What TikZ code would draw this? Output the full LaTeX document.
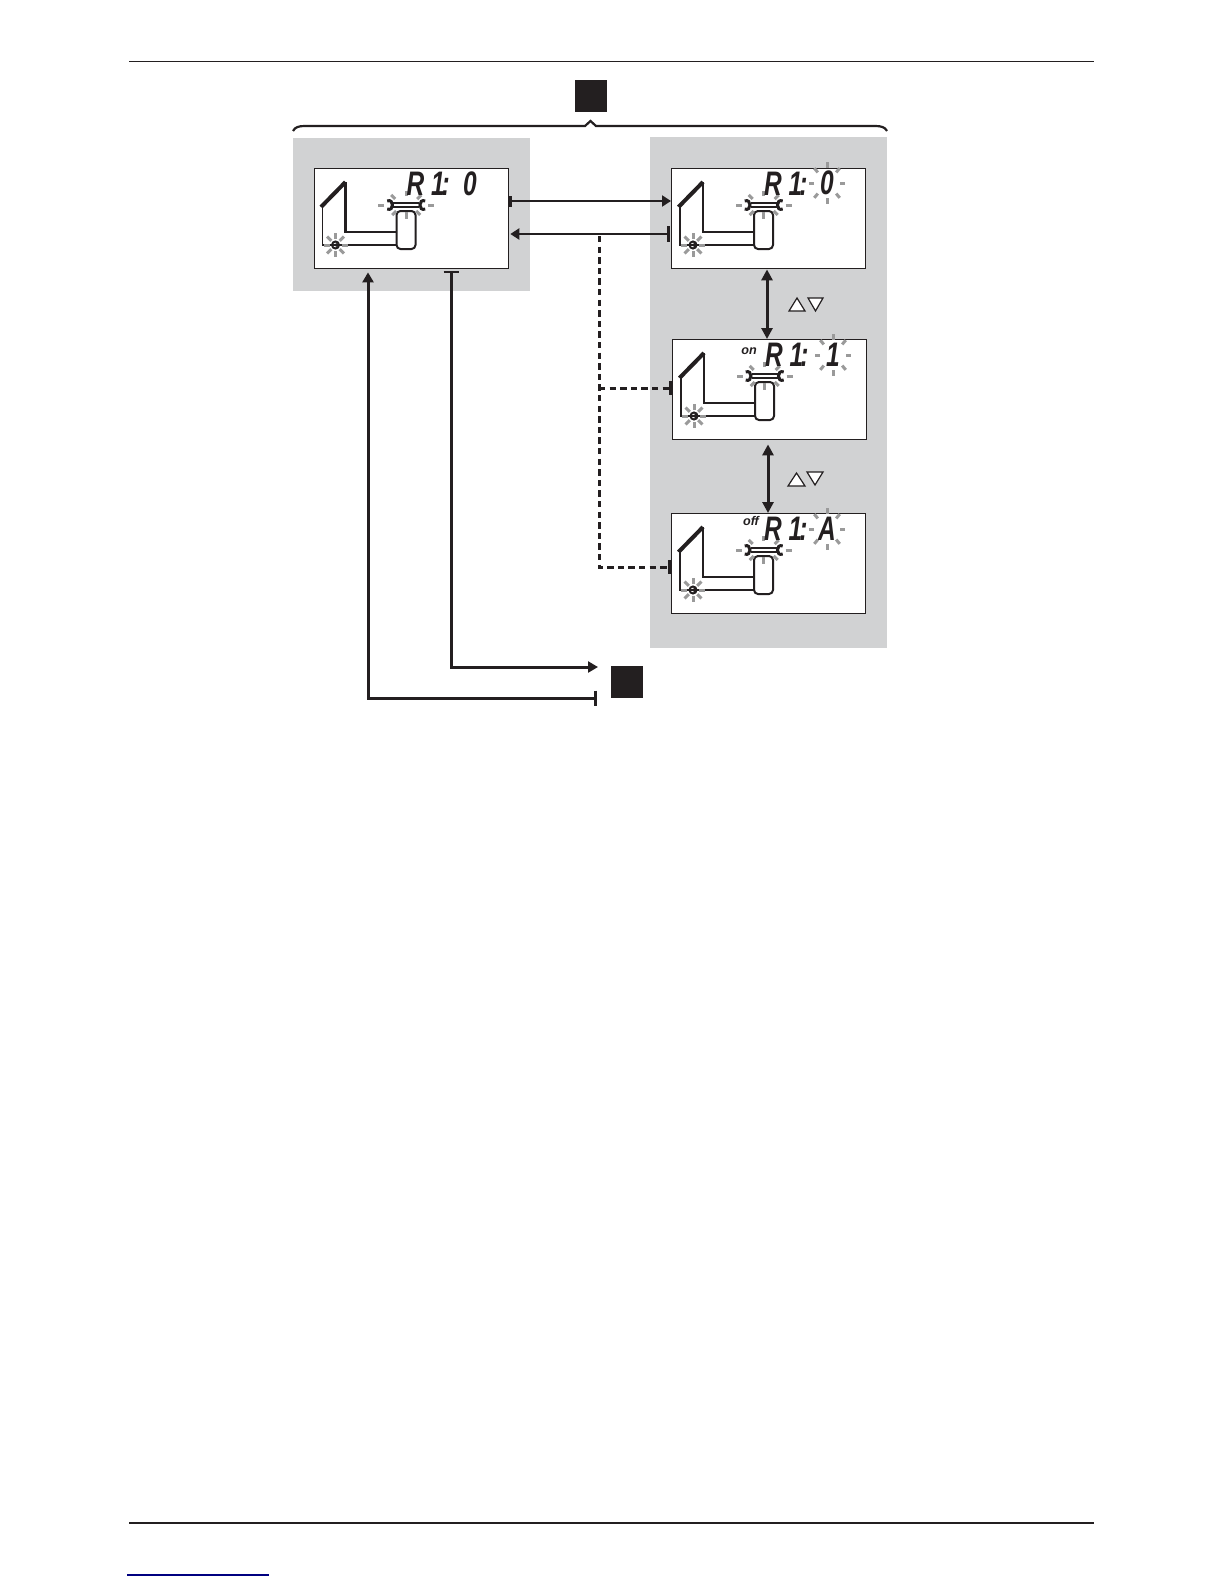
\documentclass[tikz,border=0pt]{standalone}
\usepackage{fontspec}
\setmainfont{Liberation Sans}
\newfontfamily\lcdfont[FakeStretch=0.72]{Liberation Sans Bold Italic}
\usetikzlibrary{arrows.meta}
\definecolor{panelgray}{HTML}{D1D2D3}
\definecolor{inkblack}{HTML}{231F20}
\definecolor{raygray}{HTML}{9A9A9A}
\definecolor{linkblue}{HTML}{000080}
\tikzset{
    lcd/.style={draw=inkblack, fill=white, line width=0.7pt, inner sep=0pt, anchor=north west},
    block/.style={fill=inkblack, inner sep=0pt, minimum size=16pt},
    seg/.style={font=\lcdfont\fontsize{17}{17}\selectfont, text=inkblack, inner sep=0pt},
    mode/.style={font=\bfseries\itshape\fontsize{6.3}{7}\selectfont, text=inkblack, inner sep=0pt},
    ray/.style={draw=raygray, line width=1.5pt},
    link/.style={draw=inkblack, line width=1.05pt},
    exitlink/.style={draw=inkblack, line width=1.5pt},
    dashlink/.style={link, line width=1.5pt, dash pattern=on 3.2pt off 2.1pt},
    twolink/.style={exitlink, {Triangle[length=5.5pt,width=5.5pt]}-{Triangle[length=5.5pt,width=5.5pt]}}
}
% one display: name, x, y, width of upper pipe, width of lower pipe
\newcommand{\lcdpanel}[5]{
    \node[lcd, minimum width=97pt, minimum height=50pt] (#1) at (#2,#3) {};
    \begin{scope}[shift={(#2,#3)}, draw=inkblack]
        % collector and pipes
        \draw[line width=0.8pt] (9,39) -- (9,77) -- (22,77);
        \draw[line width=#5] (22,77) -- (83,77);
        \draw[line width=#4] (32,14) -- (32,64) -- (83,64);
        \draw[line width=2pt] (7.5,39) -- (32,14);
        \draw[line width=1pt, rounded corners=2pt] (83,43) rectangle (102,81);
        % pump
        \begin{scope}[shift={(22,77)}]
            \draw[line width=1pt] (0,0) circle (3.5);
            \fill[inkblack] (2,-2.2) -- (2,2.2) -- (-2.2,0) -- cycle;
            \foreach \a in {0,45,...,315}
                \draw[ray] (\a:6) -- (\a:12);
        \end{scope}
        % wrench
        \begin{scope}[shift={(92.7,37)}]
            \draw[line width=1pt] (-13,-1.8) -- (13,-1.8) (-13,1.8) -- (13,1.8);
            \foreach \s in {-1,1} {
                \draw[line width=1.5pt] (\s*19,-4) .. controls (\s*12,-7) and (\s*12,7) .. (\s*19,4);
                \draw[ray] (\s*22,0) -- (\s*28,0);
                \draw[ray] (\s*11,-6) -- (\s*15,-10);
                \draw[ray] (\s*10,6) -- (\s*14,10);
            }
            \draw[ray] (0,-9) -- (0,-14);
            \draw[ray] (0,7) -- (0,14);
        \end{scope}
        \node[seg] (#1r) at (102,16) {R};
        \node[seg] (#1n) at (127,16) {1\kern-1.5pt:};
    \end{scope}
}
% rays round the flashing digit
\newcommand{\blink}[2]{
    \begin{scope}[shift={(#1,#2)}]
        \foreach \a in {0,45,...,315}
            \draw[ray] (\a:13 and 15) -- (\a:18 and 21);
    \end{scope}
}
\begin{document}
\begin{tikzpicture}[x=0.5pt, y=-0.5pt]
    \useasboundingbox (0,0) rectangle (1224,1584);

    % page rules and link
    \draw[inkblack, line width=0.6pt] (129,61.5) -- (1094,61.5);
    \draw[inkblack, line width=0.6pt] (129,1523) -- (1094,1523);
    \draw[linkblue, line width=0.6pt] (127,1575) -- (269,1575);

    % grey panels
    \fill[panelgray] (293,138) rectangle (530,291);
    \fill[panelgray] (650,137) rectangle (887,648);

    % brace
    \draw[inkblack, line width=1.1pt] (293,131) .. controls (295,127) and (299,126) .. (305,126)
        -- (585,126) -- (590.5,121) -- (596,126) -- (875,126)
        .. controls (881,126) and (885,127) .. (887,131);

    % displays
    \lcdpanel{lcdmain}{313.5}{168}{1.2pt}{0.6pt}
    \lcdpanel{lcdone}{671}{168}{0.6pt}{0.8pt}
    \lcdpanel{lcdtwo}{672}{339}{0.6pt}{0.8pt}
    \lcdpanel{lcdthree}{671}{513}{1.1pt}{0.7pt}

    \node[seg] (valmain) at (470,184) {0};
    \node[seg] (valone) at (827,183) {0};
    \node[seg] (valtwo) at (833,355) {1};
    \node[seg] (valthree) at (827,528.5) {A};
    \blink{827}{183}
    \blink{833}{355}
    \blink{827}{529}

    \node[mode] (on) at (749,351.5) {on};
    \node[mode] (off) at (751,520.5) {off};

    % black blocks
    \node[block] (blocktop) at (591,96) {};
    \node[block] (blockbottom) at (626.5,682) {};

    % rows for the connectors
    \coordinate (rowout) at (0,201);
    \coordinate (rowback) at (0,234);
    \coordinate (rowtwo) at (0,388);
    \coordinate (rowthree) at (0,567);
    \coordinate (dashtop) at (599,236);
    \coordinate (exitin) at (598,667);
    \coordinate (exitout) at (597,698);

    \draw[link, {Bar[width=5.5pt,line width=1.5pt]}-{Triangle[length=4.5pt,width=5.5pt]}] (lcdmain.east |- rowout) -- (lcdone.west |- rowout);
    \draw[link, {Bar[width=8pt,line width=1.5pt]}-{Triangle[length=4.5pt,width=5.5pt]}] ([xshift=-0.5pt]lcdone.west |- rowback) -- ([xshift=0.7pt]lcdmain.east |- rowback);
    \draw[dashlink] (dashtop) -- (dashtop |- rowthree) -- (lcdthree.west |- rowthree);
    \draw[dashlink] (dashtop |- rowtwo) -- (lcdtwo.west |- rowtwo);
    \fill[inkblack] ([xshift=-1.5pt,yshift=-3.5pt]lcdtwo.west |- rowtwo) rectangle ([yshift=3.5pt]lcdtwo.west |- rowtwo);
    \fill[inkblack] ([xshift=-1.5pt,yshift=-3.5pt]lcdthree.west |- rowthree) rectangle ([yshift=3.5pt]lcdthree.west |- rowthree);

    \draw[twolink] (lcdone.south -| 767,0) -- (lcdtwo.north -| 767,0);
    \draw[twolink] ([yshift=-2pt]lcdtwo.south -| 768,0) -- (lcdthree.north -| 768,0);

    % up and down keys
    \draw[inkblack, fill=white, line width=0.6pt] (789,311) -- (797,298) -- (805,311) -- cycle;
    \draw[inkblack, fill=white, line width=0.6pt] (808,298) -- (823,298) -- (815.5,311) -- cycle;
    \draw[inkblack, fill=white, line width=0.6pt] (788,486) -- (796.5,473) -- (805,486) -- cycle;
    \draw[inkblack, fill=white, line width=0.6pt] (807,472) -- (823,472) -- (815,485) -- cycle;

    % way out and way back
    \draw[exitlink, {Bar[width=7.5pt,line width=1pt]}-{Triangle[length=5pt,width=5.5pt]}] ([yshift=-1pt]lcdmain.south -| 451,0) -- (451,667) -- (exitin);
    \draw[exitlink, {Bar[width=7.5pt,line width=1.5pt]}-{Triangle[length=5pt,width=5.5pt]}] (exitout) -- (368,698) -- ([yshift=-1.5pt]lcdmain.south -| 368,0);
\end{tikzpicture}
\end{document}
